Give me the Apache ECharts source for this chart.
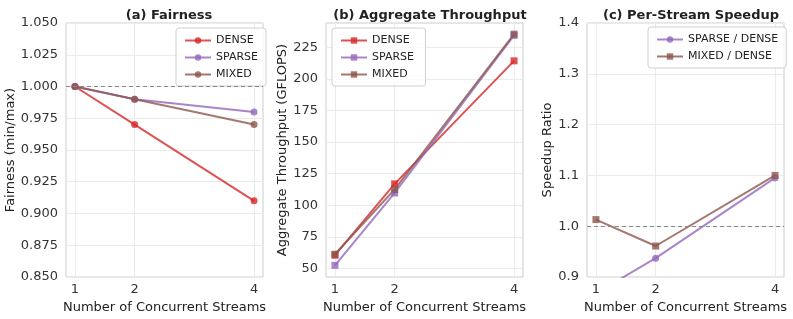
<!DOCTYPE html>
<html><head><meta charset="utf-8">
<script src="https://cdn.jsdelivr.net/npm/echarts@6/dist/echarts.min.js"></script>
<style>html,body{margin:0;padding:0;background:#fff}#c{width:793px;height:319px}</style>
</head><body><div id="c"></div>
<script>
const streams = [1, 2, 4];
const fairDense = [1.0, 0.97, 0.91];
const fairSparse = [1.0, 0.99, 0.98];
const fairMixed = [1.0, 0.99, 0.97];
const thrDense = [60.6, 117.0, 214.2];
const thrSparse = [52.6, 109.8, 234.3];
const thrMixed = [61.4, 112.6, 235.3];
const spSparse = [0.868, 0.937, 1.095];
const spMixed = [1.013, 0.961, 1.100];
const fairTicks = [0.85, 0.875, 0.9, 0.925, 0.95, 0.975, 1.0, 1.025, 1.05];
const thrTicks = [50, 75, 100, 125, 150, 175, 200, 225];
const spTicks = [0.9, 1.0, 1.1, 1.2, 1.3, 1.4];

const RED = '#d62728', PURPLE = '#9467bd', BROWN = '#8c564b';
const FONT = 'DejaVu Sans';
const pairs = a => streams.map((s, i) => [s, a[i]]);

const grids = [
  {left: 66, right: 530, top: 23, bottom: 42},
  {left: 326, right: 270, top: 23, bottom: 42},
  {left: 587, right: 9, top: 23, bottom: 42}
].map(g => Object.assign(g, {show: true, borderColor: '#cccccc', borderWidth: 1, containLabel: false}));

function xAx(i) {
  return {
    type: 'value', gridIndex: i, min: 0.85, max: 4.15,
    name: 'Number of Concurrent Streams', nameLocation: 'middle', nameGap: 20,
    nameTextStyle: {fontFamily: FONT, fontSize: 13, color: '#222'},
    axisLine: {show: false}, axisTick: {show: false, customValues: streams},
    axisLabel: {customValues: streams, fontFamily: FONT, fontSize: 13, color: '#333', margin: 6},
    splitLine: {show: true, lineStyle: {color: '#ebebeb', width: 1}}
  };
}
function yAx(i, min, max, ticks, name, dec, gap) {
  return {
    type: 'value', gridIndex: i, min: min, max: max,
    name: name, nameLocation: 'middle', nameGap: gap,
    nameTextStyle: {fontFamily: FONT, fontSize: 13, color: '#222'},
    axisLine: {show: false}, axisTick: {show: false, customValues: ticks},
    axisLabel: {customValues: ticks, fontFamily: FONT, fontSize: 13, color: '#333', margin: 8,
      formatter: v => dec === null ? String(Math.round(v)) : v.toFixed(dec)},
    splitLine: {show: true, lineStyle: {color: '#ebebeb', width: 1}}
  };
}
function ser(name, data, color, sym, i, ml) {
  const s = {
    type: 'line', name: name, data: pairs(data), xAxisIndex: i, yAxisIndex: i,
    symbol: sym, symbolSize: 7, showSymbol: true,
    lineStyle: {color: color, width: 2, opacity: 0.8},
    itemStyle: {color: color, opacity: 0.8},
    emphasis: {disabled: true}, animation: false, clip: true, z: 3
  };
  if (ml) s.markLine = {silent: true, symbol: 'none', label: {show: false},
    lineStyle: {color: '#888', type: [4, 3], width: 1}, data: [{yAxis: 1.0}]};
  return s;
}
const legendBase = {
  orient: 'vertical', backgroundColor: 'rgba(255,255,255,0.8)', borderColor: '#d0d0d0', borderWidth: 1,
  borderRadius: 3, padding: [6, 8, 5, 8], itemGap: 4, itemWidth: 26, itemHeight: 8,
  textStyle: {fontFamily: FONT, fontSize: 11, color: '#222', lineHeight: 13}
};

const option = {
  backgroundColor: '#fff',
  animation: false,
  title: [
    {text: '(a) Fairness', left: 164, top: 4, textAlign: 'center'},
    {text: '(b) Aggregate Throughput', left: 425, top: 4, textAlign: 'center'},
    {text: '(c) Per-Stream Speedup', left: 686, top: 4, textAlign: 'center'}
  ].map(t => Object.assign(t, {textStyle: {fontFamily: FONT, fontSize: 13, fontWeight: 'bold', color: '#222'}})),
  grid: grids,
  xAxis: [xAx(0), xAx(1), xAx(2)],
  yAxis: [
    yAx(0, 0.85, 1.05, fairTicks, 'Fairness (min/max)', 3, 46),
    yAx(1, 43.4, 244.1, thrTicks, 'Aggregate Throughput (GFLOPS)', null, 34),
    yAx(2, 0.9, 1.4, spTicks, 'Speedup Ratio', 1, 31)
  ],
  legend: [
    Object.assign({}, legendBase, {left: 176, top: 28, data: ['DENSE', 'SPARSE', 'MIXED']}),
    Object.assign({}, legendBase, {left: 332, top: 28, data: ['DENSE ', 'SPARSE ', 'MIXED ']}),
    Object.assign({}, legendBase, {left: 648, top: 27, data: ['SPARSE / DENSE', 'MIXED / DENSE']})
  ],
  series: [
    ser('DENSE', fairDense, RED, 'circle', 0, true),
    ser('SPARSE', fairSparse, PURPLE, 'circle', 0),
    ser('MIXED', fairMixed, BROWN, 'circle', 0),
    ser('DENSE ', thrDense, RED, 'rect', 1),
    ser('SPARSE ', thrSparse, PURPLE, 'rect', 1),
    ser('MIXED ', thrMixed, BROWN, 'rect', 1),
    ser('SPARSE / DENSE', spSparse, PURPLE, 'circle', 2, true),
    ser('MIXED / DENSE', spMixed, BROWN, 'rect', 2)
  ]
};
const chart = echarts.init(document.getElementById('c'), null, {renderer: 'canvas'});
chart.setOption(option);
</script></body></html>
